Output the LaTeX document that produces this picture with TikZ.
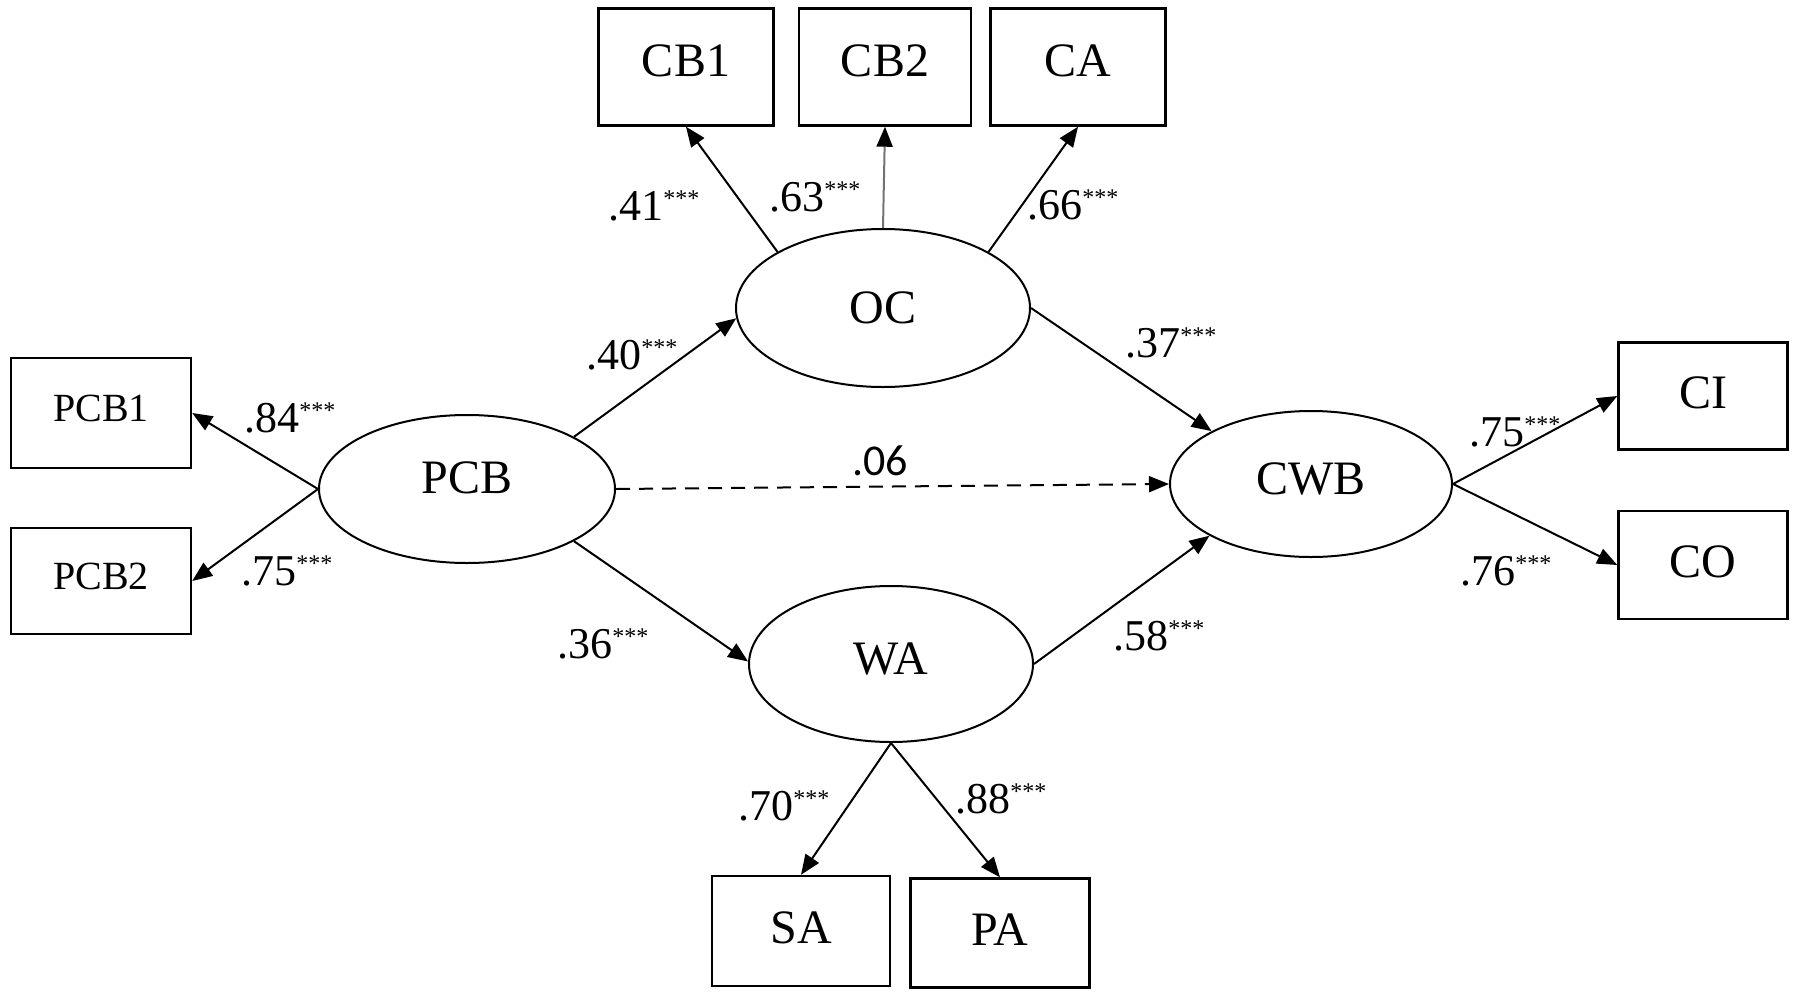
\documentclass[tikz,border=0pt]{standalone}
\usepackage{fontspec}
\setmainfont{Liberation Serif}
\newfontfamily\calfont{Carlito}
\usetikzlibrary{arrows.meta,shapes.geometric}
\tikzset{
  obs/.style={draw, line width=1.2pt, rectangle, inner sep=0pt, text depth=3.5pt, font=\fontsize{24}{28}\selectfont},
  obstop/.style={obs, text depth=6pt},
  obssm/.style={obs, text depth=4.5pt, font=\fontsize{20}{24}\selectfont},
  lat/.style={draw, line width=1pt, ellipse, inner sep=0pt, font=\fontsize{24}{28}\selectfont},
  arr/.style={line width=1pt, -{Triangle[length=10pt,width=8pt,color=black]}},
  dasharr/.style={arr, dash pattern=on 7pt off 4.5pt},
  coef/.style={anchor=base west, inner sep=0pt, font=\fontsize{22}{26}\selectfont},
}
\newcommand{\stars}{{\fontsize{12}{12}\selectfont\raisebox{7pt}{***}}}
\begin{document}
\begin{tikzpicture}[x=0.5pt,y=-0.5pt]
\useasboundingbox (0,0) rectangle (1795,996);
% observed variables
\node[obstop, minimum width=87.5pt, minimum height=58.5pt] (CB1) at (686,67) {CB1};
\node[obstop, minimum width=86pt, minimum height=58.5pt] (CB2) at (885,67) {CB2};
\node[obstop, minimum width=87.5pt, minimum height=58.5pt] (CA) at (1078,67) {CA};
\node[obssm, minimum width=90pt, minimum height=55pt] (PCB1) at (101,413) {PCB1};
\node[obssm, minimum width=90pt, minimum height=53pt] (PCB2) at (101,581) {PCB2};
\node[obs, minimum width=84.5pt, minimum height=53.5pt] (CI) at (1703,396) {CI};
\node[obs, minimum width=84.5pt, minimum height=54pt] (CO) at (1703,565) {CO};
\node[obs, minimum width=89pt, minimum height=55pt] (SA) at (801,931) {SA};
\node[obs, minimum width=89.5pt, minimum height=54.5pt] (PA) at (1000,933) {PA};
% latent variables
\node[lat, minimum width=147pt, minimum height=79pt] (OC) at (883,308) {OC};
\node[lat, minimum width=148pt, minimum height=74pt, text depth=11pt] (PCB) at (467,489) {PCB};
\node[lat, minimum width=141pt, minimum height=73pt, text depth=5.5pt] (CWB) at (1311,484) {CWB};
\node[lat, minimum width=142pt, minimum height=78pt, text depth=5pt] (WA) at (891,664) {WA};
% connectors
\draw[arr] (OC.152) -- (CB1.south);
\draw[arr, draw=black!55] (OC.north) -- (CB2.south);
\draw[arr] (OC.28) -- (CA.south);
\draw[arr] (PCB.west) -- (PCB1.east);
\draw[arr] (PCB.west) -- (PCB2.east);
\draw[arr] (PCB.26) -- (OC.184);
\draw[arr] (PCB.-26) -- (WA.179);
\draw[dasharr] (PCB.east) -- (CWB.west);
\draw[arr] (OC.east) -- (CWB.152);
\draw[arr] (WA.east) -- (CWB.207);
\draw[arr] (CWB.east) -- (CI.west);
\draw[arr] (CWB.east) -- (CO.west);
\draw[arr] (WA.south) -- (SA.north);
\draw[arr] (WA.south) -- (PA.north);
% coefficients
\node[coef] (l41) at (608,220) {.41\stars};
\node[coef] (l63) at (769,211) {.63\stars};
\node[coef] (l66) at (1027,219) {.66\stars};
\node[coef] (l84) at (244,432) {.84\stars};
\node[coef] (l75a) at (241,585) {.75\stars};
\node[coef] (l40) at (586,369) {.40\stars};
\node[coef, font=\calfont\fontsize{22}{26}\selectfont] (l06) at (852,475) {.06};
\node[coef] (l36) at (557,658) {.36\stars};
\node[coef] (l37) at (1125,357) {.37\stars};
\node[coef] (l58) at (1113,650) {.58\stars};
\node[coef] (l75b) at (1469,446) {.75\stars};
\node[coef] (l76) at (1460,585) {.76\stars};
\node[coef] (l70) at (738,820) {.70\stars};
\node[coef] (l88) at (955,813) {.88\stars};
\end{tikzpicture}
\end{document}
